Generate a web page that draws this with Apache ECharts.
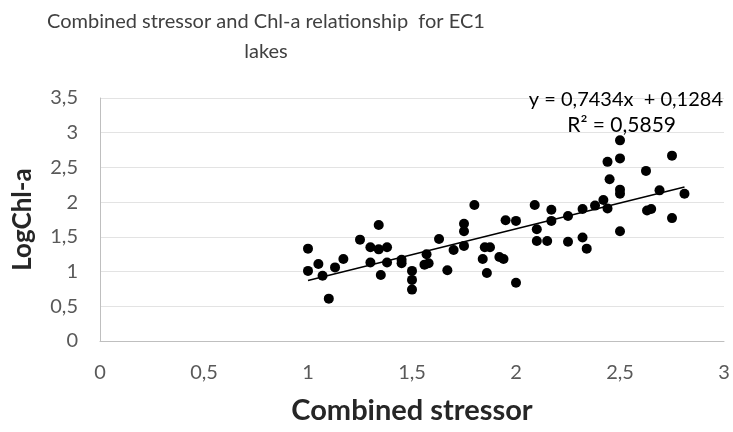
<!DOCTYPE html>
<html>
<head>
<meta charset="utf-8">
<style>
  html, body { margin: 0; padding: 0; background: #ffffff; }
  #chart { width: 733px; height: 432px; }
</style>
<script src="https://cdn.jsdelivr.net/npm/echarts@6/dist/echarts.min.js"></script>
</head>
<body>
<div id="chart"></div>
<script>
// Combined stressor (x) vs. log chlorophyll-a (y) for EC1 lakes
const stressor = [
  1.00, 1.00, 1.05, 1.07, 1.10, 1.13, 1.17, 1.25, 1.34, 1.30,
  1.34, 1.38, 1.30, 1.38, 1.35, 1.45, 1.45, 1.50, 1.50, 1.50,
  1.57, 1.56, 1.58, 1.63, 1.67, 1.70, 1.75, 1.75, 1.75, 1.80,
  1.84, 1.85, 1.875, 1.86, 1.92, 1.94, 1.95, 2.00, 2.00, 2.09,
  2.10, 2.10, 2.15, 2.17, 2.17, 2.25, 2.25, 2.32, 2.32, 2.34,
  2.38, 2.42, 2.44, 2.45, 2.44, 2.50, 2.50, 2.50, 2.50, 2.50,
  2.625, 2.63, 2.65, 2.69, 2.75, 2.75, 2.81
];
const logChl = [
  1.33, 1.01, 1.11, 0.94, 0.61, 1.06, 1.18, 1.46, 1.67, 1.35,
  1.32, 1.35, 1.13, 1.13, 0.95, 1.17, 1.12, 1.01, 0.88, 0.74,
  1.25, 1.10, 1.12, 1.47, 1.02, 1.31, 1.69, 1.58, 1.37, 1.96,
  1.18, 1.35, 1.35, 0.98, 1.21, 1.18, 1.74, 1.73, 0.84, 1.96,
  1.61, 1.44, 1.44, 1.89, 1.73, 1.80, 1.43, 1.90, 1.49, 1.33,
  1.95, 2.03, 1.91, 2.33, 2.58, 2.89, 2.63, 2.18, 2.12, 1.58,
  2.45, 1.88, 1.90, 2.17, 2.67, 1.77, 2.12
];

// Linear trendline coefficients
const slope = 0.7434;
const intercept = 0.1284;
const rSquared = 0.5859;

const xTicks = { min: 0, max: 3, interval: 0.5 };
const yTicks = { min: 0, max: 3.5, interval: 0.5 };

const points = stressor.map((x, i) => [x, logChl[i]]);
const xLo = Math.min(...stressor);
const xHi = Math.max(...stressor);
const trend = [[xLo, slope * xLo + intercept], [xHi, slope * xHi + intercept]];

const comma = v => String(v).replace('.', ',');
const FONT = 'Lato, "Open Sans", sans-serif';

const chart = echarts.init(document.getElementById('chart'), null, { renderer: 'canvas' });
chart.setOption({
  animation: false,
  backgroundColor: '#ffffff',
  title: [
    {
      text: 'Combined stressor and Chl-a relationship  for EC1\nlakes',
      left: 261, top: 2, textAlign: 'center',
      textStyle: { fontFamily: FONT, fontSize: 20, fontWeight: 'normal', color: '#404040', lineHeight: 30 }
    },
    {
      text: 'y = ' + comma(slope) + 'x  + ' + comma(intercept),
      right: 5, top: 85,
      textStyle: { fontFamily: FONT, fontSize: 20, fontWeight: 'normal', color: '#000000' }
    },
    {
      text: 'R² = ' + comma(rSquared),
      right: 52, top: 110,
      textStyle: { fontFamily: FONT, fontSize: 21, fontWeight: 'normal', color: '#000000' }
    }
  ],
  grid: { left: 100, right: 9, top: 98, bottom: 91, containLabel: false },
  xAxis: {
    type: 'value',
    min: xTicks.min, max: xTicks.max, interval: xTicks.interval,
    name: 'Combined stressor',
    nameLocation: 'middle', nameGap: 55,
    nameTextStyle: { fontFamily: FONT, fontSize: 29, fontWeight: 'bold', color: '#262626' },
    axisLine: { show: true, lineStyle: { color: '#bfbfbf', width: 1 } },
    axisTick: { show: false },
    splitLine: { show: false },
    axisLabel: { fontFamily: FONT, fontSize: 20, color: '#595959', margin: 22, formatter: comma }
  },
  yAxis: {
    type: 'value',
    min: yTicks.min, max: yTicks.max, interval: yTicks.interval,
    name: 'LogChl-a',
    nameLocation: 'middle', nameGap: 64, nameRotate: 90,
    nameTextStyle: { fontFamily: FONT, fontSize: 26, fontWeight: 'bold', color: '#262626' },
    axisLine: { show: true, lineStyle: { color: '#bfbfbf', width: 1 } },
    axisTick: { show: false },
    splitLine: { show: true, lineStyle: { color: '#e3e3e3', width: 1 } },
    axisLabel: { fontFamily: FONT, fontSize: 20, color: '#595959', margin: 22, formatter: comma }
  },
  series: [
    {
      type: 'scatter',
      data: points,
      symbol: 'circle',
      symbolSize: 10,
      itemStyle: { color: '#000000', opacity: 1 },
      z: 3
    },
    {
      type: 'line',
      data: trend,
      symbol: 'none',
      lineStyle: { color: '#000000', width: 1.5 },
      z: 4
    }
  ]
});
</script>
</body>
</html>
